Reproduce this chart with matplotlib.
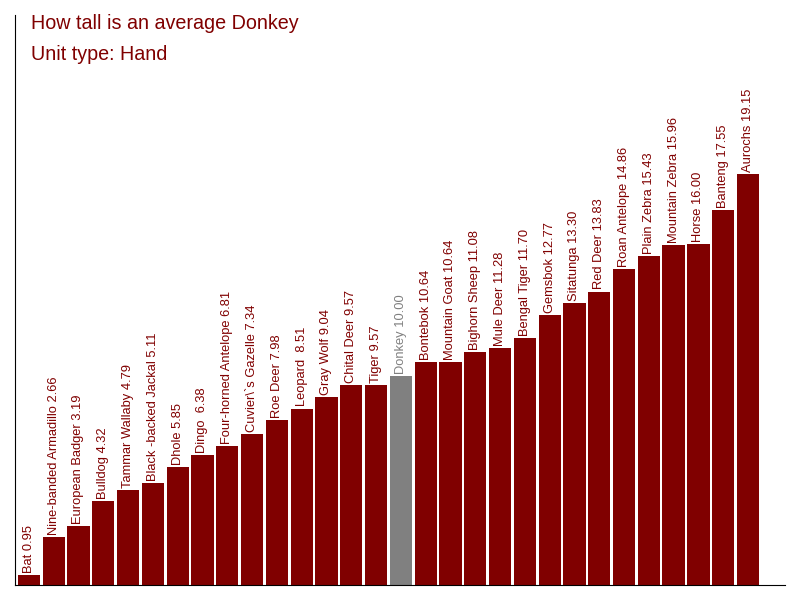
import matplotlib.pyplot as plt

plt.rcParams['font.family'] = ['Liberation Sans', 'DejaVu Sans']

# animal heights in hands
names = ['Bat', 'Nine-banded Armadillo', 'European Badger', 'Bulldog', 'Tammar Wallaby',
         'Black -backed Jackal', 'Dhole', 'Dingo ', 'Four-horned Antelope', 'Cuvier\\`s Gazelle',
         'Roe Deer', 'Leopard ', 'Gray Wolf', 'Chital Deer', 'Tiger', 'Donkey', 'Bontebok',
         'Mountain Goat', 'Bighorn Sheep', 'Mule Deer', 'Bengal Tiger', 'Gemsbok', 'Sitatunga',
         'Red Deer', 'Roan Antelope', 'Plain Zebra', 'Mountain Zebra', 'Horse', 'Banteng', 'Aurochs']
heights = [0.95, 2.66, 3.19, 4.32, 4.79, 5.11, 5.85, 6.38, 6.81, 7.34,
           7.98, 8.51, 9.04, 9.57, 9.57, 10.00, 10.64, 10.64, 11.08, 11.28,
           11.70, 12.77, 13.30, 13.83, 14.86, 15.43, 15.96, 16.00, 17.55, 19.15]
highlight = 'Donkey'

red = '#800000'
grey = '#808080'

fig = plt.figure(figsize=(8, 6), dpi=100)
ax = fig.add_axes([15 / 800, 15 / 600, 770 / 800, 570 / 600])

x = list(range(len(names)))
colors = [grey if n == highlight else red for n in names]
ax.bar(x, heights, width=0.9, color=colors)

for i, (n, h) in enumerate(zip(names, heights)):
    c = grey if n == highlight else red
    ax.annotate(f'{n} {h:.2f}', (i, h), xytext=(0, 1.5), textcoords='offset points',
                rotation=90, ha='center', va='bottom', fontsize=9.3, color=c)

ax.set_xlim(-0.56, 30.49)
ax.set_ylim(0.49, 26.4)
ax.spines['top'].set_visible(False)
ax.spines['right'].set_visible(False)
ax.set_xticks([])
ax.set_yticks([])

fig.text(31 / 800, 1 - 29 / 600, 'How tall is an average Donkey', fontsize=14.2,
         color=red, va='baseline', ha='left')
fig.text(31 / 800, 1 - 60 / 600, 'Unit type: Hand', fontsize=14.2,
         color=red, va='baseline', ha='left')

fig.savefig('out.png', dpi=100)
